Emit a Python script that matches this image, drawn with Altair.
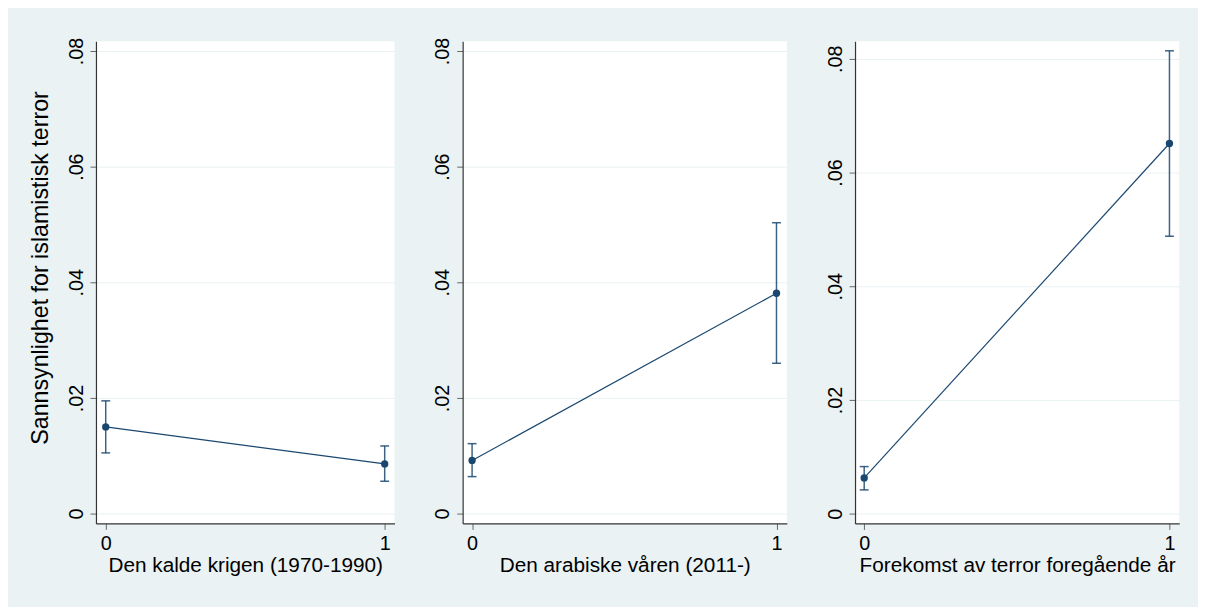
import altair as alt
import pandas as pd

# ---- data ----
x_vals = [0, 1]

kald_est = [0.0150, 0.0086]
kald_lo = [0.0105, 0.0056]
kald_hi = [0.0195, 0.0117]

arab_est = [0.0092, 0.0381]
arab_lo = [0.0064, 0.0260]
arab_hi = [0.0121, 0.0503]

terr_est = [0.0063, 0.0651]
terr_lo = [0.0042, 0.0488]
terr_hi = [0.0083, 0.0814]

y_ticks = [0, 0.02, 0.04, 0.06, 0.08]
x_ticks = [0, 1]

x_titles = [
    "Den kalde krigen (1970-1990)",
    "Den arabiske våren (2011-)",
    "Forekomst av terror foregående år",
]
y_title = "Sannsynlighet for islamistisk terror"

NAVY = "#1a476f"
BG = "#eaf2f3"
FONT = "Liberation Sans"
LABEL_EXPR = "datum.value == 0 ? '0' : substring(format(datum.value, '.2f'), 1)"


def panel(est, lo, hi, xtitle, ydom, xdom, width, show_ytitle):
    df = pd.DataFrame({"x": x_vals, "est": est, "lo": lo, "hi": hi})
    base = alt.Chart(df)
    xenc = alt.X(
        "x:Q",
        scale=alt.Scale(domain=xdom, nice=False, zero=False),
        axis=alt.Axis(values=x_ticks, format="d", title=xtitle, grid=False),
    )
    if show_ytitle:
        yaxis = alt.Axis(
            values=y_ticks,
            labelExpr=LABEL_EXPR,
            labelAngle=270,
            labelAlign="center",
            labelBaseline="alphabetic",
            title=y_title,
            titleFontSize=23.5,
            titlePadding=14,
            titleY=229,
            grid=True,
        )
    else:
        yaxis = alt.Axis(
            values=y_ticks,
            labelExpr=LABEL_EXPR,
            labelAngle=270,
            labelAlign="center",
            labelBaseline="alphabetic",
            title=None,
            grid=True,
        )
    yenc = alt.Y(
        "est:Q",
        scale=alt.Scale(domain=ydom, nice=False, zero=False),
        axis=yaxis,
    )
    line = base.mark_line(color=NAVY, strokeWidth=1.2).encode(x=xenc, y=yenc)
    rule = base.mark_rule(color=NAVY, strokeWidth=1.5, opacity=0.85).encode(
        x="x:Q", y="lo:Q", y2="hi:Q"
    )
    cap_lo = base.mark_tick(
        color=NAVY, orient="horizontal", size=9, thickness=1.5, opacity=0.85
    ).encode(x="x:Q", y="lo:Q")
    cap_hi = base.mark_tick(
        color=NAVY, orient="horizontal", size=9, thickness=1.5, opacity=0.85
    ).encode(x="x:Q", y="hi:Q")
    pts = base.mark_point(color=NAVY, filled=True, size=55, opacity=1).encode(
        x="x:Q", y="est:Q"
    )
    return alt.layer(line, rule, cap_lo, cap_hi, pts).properties(
        width=width, height=488
    )


p1 = panel(kald_est, kald_lo, kald_hi, x_titles[0], [-0.0017, 0.0817], [-0.035, 1.035], 302, True)
p2 = panel(arab_est, arab_lo, arab_hi, x_titles[1], [-0.0017, 0.0817], [-0.031, 1.034], 328, False)
p3 = panel(terr_est, terr_lo, terr_hi, x_titles[2], [-0.0017, 0.0831], [-0.030, 1.032], 328, False)

chart = (
    alt.hconcat(p1, p2, p3, spacing=38)
    .properties(
        background=BG,
        padding={"left": 20, "top": 26, "right": 19, "bottom": 28},
    )
    .configure_view(fill="white", stroke=None)
    .configure_axis(
        labelFont=FONT,
        titleFont=FONT,
        labelFontSize=20,
        titleFontSize=21,
        labelColor="#000000",
        titleColor="#000000",
        titleFontWeight="normal",
        domainColor="#333333",
        domainWidth=1.2,
        tickColor="#666666",
        tickSize=6,
        tickWidth=1,
        gridColor=BG,
        gridWidth=1,
        labelPadding=4,
        titlePadding=2,
    )
    .configure_axisY(labelPadding=8)
)

chart.save("out.html", embed_options={"renderer": "svg", "actions": False})
